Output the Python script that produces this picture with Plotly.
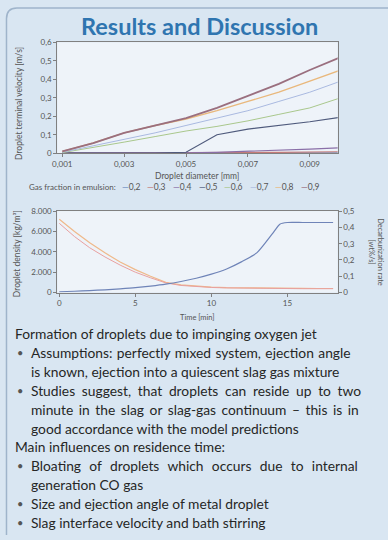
import plotly.graph_objects as go

# ---- droplet terminal velocity vs. diameter, one series per gas fraction ----
diameter_m = [0.001, 0.002, 0.003, 0.004, 0.005, 0.006, 0.007, 0.008, 0.009, 0.010]
gas_fraction_labels = ["0,2", "0,3", "0,4", "0,5", "0,6", "0,7", "0,8", "0,9"]
velocity_02 = [0.002, 0.002, 0.002, 0.002, 0.002, 0.002, 0.002, 0.002, 0.002, 0.002]
velocity_03 = [0.0, 0.0, 0.0, 0.001, 0.002, 0.003, 0.004, 0.005, 0.006, 0.008]
velocity_04 = [0.0, 0.0, 0.0, 0.0, 0.002, 0.005, 0.010, 0.015, 0.022, 0.030]
velocity_05 = [0.0, 0.0, 0.0, 0.0, 0.005, 0.100, 0.130, 0.150, 0.170, 0.195]
velocity_06 = [0.003, 0.030, 0.060, 0.090, 0.120, 0.145, 0.175, 0.210, 0.245, 0.300]
velocity_07 = [0.005, 0.040, 0.075, 0.110, 0.150, 0.190, 0.230, 0.280, 0.330, 0.390]
velocity_08 = [0.010, 0.055, 0.110, 0.150, 0.185, 0.230, 0.280, 0.330, 0.390, 0.450]
velocity_09 = [0.010, 0.055, 0.110, 0.150, 0.190, 0.245, 0.310, 0.375, 0.450, 0.520]
velocity_series = [velocity_02, velocity_03, velocity_04, velocity_05,
                   velocity_06, velocity_07, velocity_08, velocity_09]
series_colors = ["#6f8fc0", "#c47a78", "#8a6fa8", "#4f5a7c",
                 "#a9c78c", "#a9b9e0", "#e9b87c", "#9a6f7f"]
series_widths = [1.2, 1.2, 1.2, 1.2, 1.0, 1.0, 1.4, 1.8]

diameter_ticks = [0.001, 0.003, 0.005, 0.007, 0.009]

# ---- droplet density and decarburization rate over time ----
time_min = [0, 1, 2, 3, 4, 5, 6, 7, 8, 9, 10, 11, 12, 13, 14, 14.5, 15, 16, 17, 18]
density_a = [7200, 6000, 4900, 3900, 3000, 2250, 1600, 1000, 750, 620, 540, 490,
             460, 440, 430, 425, 420, 410, 400, 400]
density_b = [6800, 5500, 4400, 3500, 2700, 2000, 1450, 950, 700, 580, 500, 460,
             430, 410, 400, 395, 390, 380, 380, 380]
decarb_rate = [0.005, 0.008, 0.012, 0.017, 0.023, 0.030, 0.040, 0.052, 0.068, 0.088,
               0.113, 0.145, 0.190, 0.245, 0.360, 0.420, 0.430, 0.430, 0.430, 0.430]

# (bullet flag, text, extra word spacing in px for justified lines)
body_lines = [
    (False, "Formation of droplets due to impinging oxygen jet", 0),
    (True, "Assumptions: perfectly mixed system, ejection angle", 0.9),
    (None, "is known, ejection into a quiescent slag gas mixture", 0),
    (True, "Studies suggest, that droplets can reside up to two", 3.2),
    (None, "minute in the slag or slag-gas continuum \u2013 this is in", 2.0),
    (None, "good accordance with the model predictions", 0),
    (False, "Main influences on residence time:", 0),
    (True, "Bloating of droplets which occurs due to internal", 4.8),
    (None, "generation CO gas", 0),
    (True, "Size and ejection angle of metal droplet", 0),
    (True, "Slag interface velocity and bath stirring", 0),
]

W, H = 388, 540


def px(x):
    return x / W


def py(y):
    return 1 - y / H


FONT = "Lato"
LABEL_GREY = "#555555"
TICK_FONT = dict(family=FONT, size=8, color=LABEL_GREY)
AXIS_LINE = "#808080"

fig = go.Figure()

for label, vals, col, lw in zip(gas_fraction_labels, velocity_series,
                                series_colors, series_widths):
    fig.add_trace(go.Scatter(x=diameter_m, y=vals, mode="lines", name=label,
                             line=dict(color=col, width=lw),
                             xaxis="x", yaxis="y", showlegend=False))

fig.add_trace(go.Scatter(x=time_min, y=density_a, mode="lines",
                         line=dict(color="#efb98a", width=1.2),
                         xaxis="x2", yaxis="y2", showlegend=False))
fig.add_trace(go.Scatter(x=time_min, y=density_b, mode="lines",
                         line=dict(color="#e8a0a0", width=1.0),
                         xaxis="x2", yaxis="y2", showlegend=False))
fig.add_trace(go.Scatter(x=time_min, y=decarb_rate, mode="lines",
                         line=dict(color="#6f84b8", width=1.2, shape="spline",
                                   smoothing=0.6),
                         xaxis="x2", yaxis="y3", showlegend=False))

x_dom = [px(53), px(337)]
common_axis = dict(showline=True, linecolor=AXIS_LINE, linewidth=1, mirror=True,
                   showgrid=False, zeroline=False, ticks="outside", ticklen=3,
                   tickcolor=AXIS_LINE, tickfont=TICK_FONT)

fig.update_layout(
    width=W, height=H, margin=dict(l=0, r=0, t=0, b=0),
    paper_bgcolor="#d9e6f2", plot_bgcolor="#eef3f9",
    separators=",.", showlegend=False,
    xaxis=dict(domain=x_dom, anchor="y", range=[0.00084, 0.0099],
               tickvals=diameter_ticks, tickformat=".3f", **common_axis),
    yaxis=dict(domain=[py(151), py(38)], anchor="x", range=[0, 0.6], dtick=0.1,
               **common_axis),
    xaxis2=dict(domain=x_dom, anchor="y2", range=[-0.13, 18.3], dtick=5,
                **common_axis),
    yaxis2=dict(domain=[py(293), py(210)], anchor="x2", range=[0, 8000],
                dtick=2000, tickformat=",.0f", **common_axis),
    yaxis3=dict(overlaying="y2", side="right", anchor="x2", range=[0, 0.5],
                dtick=0.1, showline=True, linecolor=AXIS_LINE, showgrid=False,
                zeroline=False, ticks="outside", ticklen=3, tickcolor=AXIS_LINE,
                tickfont=TICK_FONT),
)

ann = []
# heading
ann.append(dict(x=px(197), y=py(21), text="<b>Results and Discussion</b>",
                font=dict(family=FONT, size=23.5, color="#2f75b0")))
# axis titles
ann.append(dict(x=px(14), y=py(100), text="Droplet terminal velocity [m/s]",
                textangle=-90, font=dict(family=FONT, size=8.5, color=LABEL_GREY)))
ann.append(dict(x=px(195), y=py(174), text="Droplet diameter [mm]",
                font=dict(family=FONT, size=8.5, color=LABEL_GREY)))
ann.append(dict(x=px(12), y=py(253), text="Droplet density [kg/m\u00b3]",
                textangle=-90, font=dict(family=FONT, size=8.5, color=LABEL_GREY)))
ann.append(dict(x=px(195), y=py(318), text="Time [min]",
                font=dict(family=FONT, size=7.5, color=LABEL_GREY)))
ann.append(dict(x=px(376), y=py(252), text="Decarburization rate<br>[wt%/s]",
                textangle=90, font=dict(family=FONT, size=7.5, color=LABEL_GREY)))
# legend row built from the series names and colours
ann.append(dict(x=px(22), y=py(185), xanchor="left",
                text="Gas fraction in emulsion:",
                font=dict(family=FONT, size=8, color=LABEL_GREY)))
for i, (lab, c) in enumerate(zip(gas_fraction_labels, series_colors)):
    ann.append(dict(x=px(116 + i * 26), y=py(185), xanchor="left",
                    text=f"<span style='color:{c}'>\u2014</span>{lab}",
                    font=dict(family=FONT, size=8.5, color=LABEL_GREY)))

# body text
y0, dy = 335, 19.2
for i, (bullet, line, ws) in enumerate(body_lines):
    yy = y0 + i * dy
    if bullet is True:
        ann.append(dict(x=px(10), y=py(yy), xanchor="left", text="\u2022",
                        font=dict(family=FONT, size=11, color="#555555")))
    xx = 8 if bullet is False else 24
    txt = f"<span style='word-spacing:{ws}px'>{line}</span>" if ws else line
    ann.append(dict(x=px(xx), y=py(yy), xanchor="left", text=txt,
                    font=dict(family=FONT, size=13.8, color="#262626")))

for a in ann:
    a.update(xref="paper", yref="paper", showarrow=False)
    a.setdefault("xanchor", "center")
    a.setdefault("yanchor", "middle")
fig.update_layout(annotations=ann)

# rounded panel outline
fig.add_shape(type="path", xref="paper", yref="paper",
              path=f"M {px(1.5)},{py(540)} L {px(1.5)},{py(14)} "
                   f"Q {px(1.5)},{py(3)} {px(12)},{py(3)} L {px(388)},{py(3)}",
              line=dict(color="#9fb4cb", width=1.5))

fig.write_html("out.html")
